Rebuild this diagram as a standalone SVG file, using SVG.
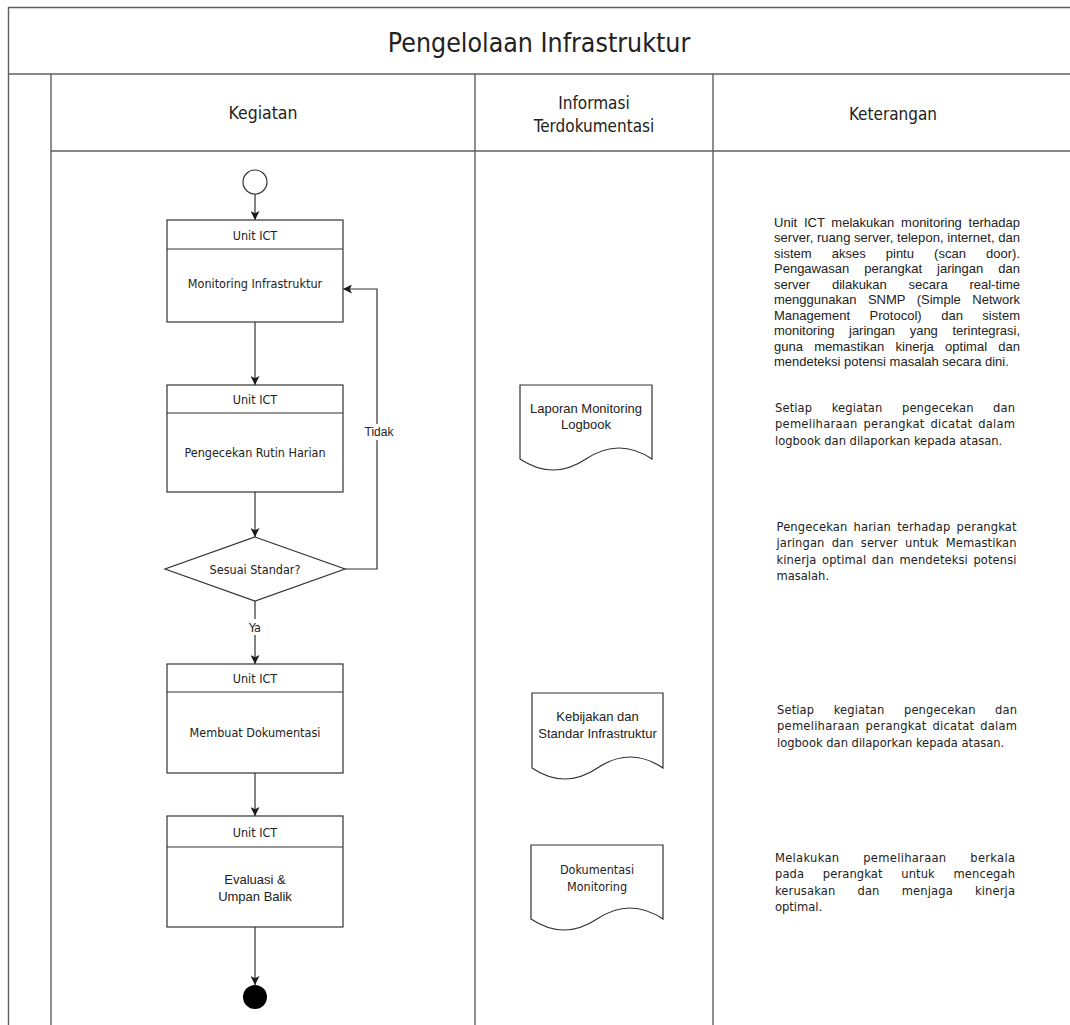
<svg xmlns="http://www.w3.org/2000/svg" width="1070" height="1025" viewBox="0 0 1070 1025">
  <defs>
    <style>
      .tbl{stroke:#5f5f5f;stroke-width:1.4;fill:none}
      .shape{fill:#fff;stroke:#333;stroke-width:1.2}
      .conn{fill:none;stroke:#333;stroke-width:1.2}
      .t{font-family:"DejaVu Sans Condensed","DejaVu Sans",sans-serif;font-stretch:condensed;fill:#222}
      .a{font-family:"Liberation Sans",Arial,sans-serif;fill:#222}
      .c{text-anchor:middle}
      .lbl{font-size:12.5px}
      .doc{font-size:13px}
      .k1{font-family:"Liberation Sans",Arial,sans-serif;font-size:13px;fill:#222}
      .k2{font-family:"DejaVu Sans Condensed","DejaVu Sans",sans-serif;font-stretch:condensed;font-size:12.8px;fill:#222}
    </style>
    <marker id="arrow" viewBox="0 0 10 10" refX="10" refY="5" markerWidth="9" markerHeight="9" markerUnits="userSpaceOnUse" orient="auto">
      <path d="M0,0 L10,5 L0,10 L2.5,5 Z" fill="#1a1a1a"/>
    </marker>
  </defs>

  <rect width="1070" height="1025" fill="#fff"/>

  <!-- pool frame: title bar, lane strip, header row and column separators -->
  <g id="frame" class="tbl">
    <line x1="8" y1="7.5" x2="1070" y2="7.5"/>
    <line x1="8.5" y1="7" x2="8.5" y2="1025"/>
    <line x1="8" y1="74" x2="1070" y2="74"/>
    <line x1="51" y1="74" x2="51" y2="1025"/>
    <line x1="51" y1="151" x2="1070" y2="151"/>
    <line x1="475" y1="74" x2="475" y2="1025"/>
    <line x1="713" y1="74" x2="713" y2="1025"/>
  </g>

  <g id="title">
    <text class="t c" x="539" y="51.5" font-size="26.5">Pengelolaan Infrastruktur</text>
  </g>
  <g id="headers">
    <text class="t c" x="263" y="119" font-size="17.5">Kegiatan</text>
    <text class="t c" x="594" y="109" font-size="17">Informasi</text>
    <text class="t c" x="594" y="132" font-size="17">Terdokumentasi</text>
    <text class="t c" x="893" y="120" font-size="17">Keterangan</text>
  </g>

  <!-- connectors -->
  <g id="connectors">
    <path class="conn" d="M255,194 V220" marker-end="url(#arrow)"/>
    <path class="conn" d="M255,322 V385" marker-end="url(#arrow)"/>
    <path class="conn" d="M255,492 V537" marker-end="url(#arrow)"/>
    <path class="conn" d="M255,601 V664" marker-end="url(#arrow)"/>
    <path class="conn" d="M255,773 V816" marker-end="url(#arrow)"/>
    <path class="conn" d="M255,927 V985" marker-end="url(#arrow)"/>
    <path class="conn" d="M345,569 H377 V289 H343" marker-end="url(#arrow)"/>
    <rect x="246" y="619" width="18" height="16" fill="#fff"/>
    <text class="t c lbl" x="255" y="631.5">Ya</text>
    <rect x="364" y="424" width="30" height="16" fill="#fff"/>
    <text class="a c" x="379" y="436.3" font-size="12">Tidak</text>
  </g>

  <!-- activity lane -->
  <g id="start">
    <circle class="shape" cx="255" cy="182" r="12"/>
  </g>

  <g id="monitoring">
    <rect class="shape" x="167" y="220" width="176" height="102"/>
    <line class="shape" x1="167" y1="249" x2="343" y2="249"/>
    <text class="t c lbl" x="255" y="239.5">Unit ICT</text>
    <text class="t c lbl" x="255" y="287.5">Monitoring Infrastruktur</text>
  </g>

  <g id="pengecekan">
    <rect class="shape" x="167" y="385" width="176" height="107"/>
    <line class="shape" x1="167" y1="413" x2="343" y2="413"/>
    <text class="t c lbl" x="255" y="403.5">Unit ICT</text>
    <text class="t c lbl" x="255" y="456.5">Pengecekan Rutin Harian</text>
  </g>

  <g id="sesuai-standar">
    <polygon class="shape" points="255,537 345,569 255,601 165,569"/>
    <text class="t c lbl" x="255" y="573.5">Sesuai Standar?</text>
  </g>

  <g id="dokumentasi">
    <rect class="shape" x="167" y="664" width="176" height="109"/>
    <line class="shape" x1="167" y1="692" x2="343" y2="692"/>
    <text class="t c lbl" x="255" y="682.5">Unit ICT</text>
    <text class="t c lbl" x="255" y="736.5">Membuat Dokumentasi</text>
  </g>

  <g id="evaluasi">
    <rect class="shape" x="167" y="816" width="176" height="111"/>
    <line class="shape" x1="167" y1="847" x2="343" y2="847"/>
    <text class="t c lbl" x="255" y="836.5">Unit ICT</text>
    <text class="a c doc" x="255" y="883.6">Evaluasi &amp;</text>
    <text class="a c doc" x="255" y="900.6">Umpan Balik</text>
  </g>

  <g id="end">
    <circle cx="255" cy="997" r="12" fill="#000"/>
  </g>

  <!-- documented information lane -->
  <g id="doc-logbook">
    <path class="shape" d="M520,385 H652 V459 Q619,437 586,459 Q553,481 520,459 Z"/>
    <text class="a c doc" x="586" y="412.6">Laporan Monitoring</text>
    <text class="a c doc" x="586" y="428.6">Logbook</text>
  </g>

  <g id="doc-kebijakan">
    <path class="shape" d="M532,693 H663 V768 Q630.25,746 597.5,768 Q564.75,790 532,768 Z"/>
    <text class="a c doc" x="597.5" y="720.6">Kebijakan dan</text>
    <text class="a c doc" x="597.5" y="737.6">Standar Infrastruktur</text>
  </g>

  <g id="doc-dokumentasi">
    <path class="shape" d="M531,845 H663 V919 Q630,897 597,919 Q564,941 531,919 Z"/>
    <text class="t c lbl" x="597" y="873.5">Dokumentasi</text>
    <text class="t c lbl" x="597" y="890.5">Monitoring</text>
  </g>

  <!-- remarks lane: justified paragraphs -->
  <g id="ket-monitoring" class="k1">
    <text x="774" y="226.5" textLength="246" lengthAdjust="spacing" style="word-spacing:3.1px">Unit ICT melakukan monitoring terhadap</text>
    <text x="774" y="242" textLength="246" lengthAdjust="spacing">server, ruang server, telepon, internet, dan</text>
    <text x="774" y="257.5" textLength="246" lengthAdjust="spacing" style="word-spacing:16.5px">sistem akses pintu (scan door).</text>
    <text x="774" y="273" textLength="246" lengthAdjust="spacing" style="word-spacing:11.4px">Pengawasan perangkat jaringan dan</text>
    <text x="774" y="288.5" textLength="246" lengthAdjust="spacing" style="word-spacing:18.2px">server dilakukan secara real-time</text>
    <text x="774" y="304" textLength="246" lengthAdjust="spacing" style="word-spacing:7.8px">menggunakan SNMP (Simple Network</text>
    <text x="774" y="319.5" textLength="246" lengthAdjust="spacing" style="word-spacing:15.8px">Management Protocol) dan sistem</text>
    <text x="774" y="335" textLength="246" lengthAdjust="spacing" style="word-spacing:11.1px">monitoring jaringan yang terintegrasi,</text>
    <text x="774" y="350.5" textLength="246" lengthAdjust="spacing" style="word-spacing:7.7px">guna memastikan kinerja optimal dan</text>
    <text x="774" y="366">mendeteksi potensi masalah secara dini.</text>
  </g>

  <g id="ket-logbook" class="k2">
    <text x="775" y="411.5" textLength="240" lengthAdjust="spacing" style="word-spacing:15.7px">Setiap kegiatan pengecekan dan</text>
    <text x="775" y="428" textLength="240" lengthAdjust="spacing" style="word-spacing:2px">pemeliharaan perangkat dicatat dalam</text>
    <text x="775" y="444.5">logbook dan dilaporkan kepada atasan.</text>
  </g>

  <g id="ket-harian" class="k2">
    <text x="776.5" y="530.5" textLength="240" lengthAdjust="spacing" style="word-spacing:2.4px">Pengecekan harian terhadap perangkat</text>
    <text x="776.5" y="547" textLength="240" lengthAdjust="spacing" style="word-spacing:3.4px">jaringan dan server untuk Memastikan</text>
    <text x="776.5" y="563.5" textLength="240" lengthAdjust="spacing" style="word-spacing:1.8px">kinerja optimal dan mendeteksi potensi</text>
    <text x="776.5" y="580">masalah.</text>
  </g>

  <g id="ket-dokumentasi" class="k2">
    <text x="777" y="713.5" textLength="240" lengthAdjust="spacing" style="word-spacing:15.7px">Setiap kegiatan pengecekan dan</text>
    <text x="777" y="730" textLength="240" lengthAdjust="spacing" style="word-spacing:2px">pemeliharaan perangkat dicatat dalam</text>
    <text x="777" y="746.5">logbook dan dilaporkan kepada atasan.</text>
  </g>

  <g id="ket-pemeliharaan" class="k2">
    <text x="775" y="861.5" textLength="240" lengthAdjust="spacing" style="word-spacing:19.9px">Melakukan pemeliharaan berkala</text>
    <text x="775" y="878" textLength="240" lengthAdjust="spacing" style="word-spacing:14.8px">pada perangkat untuk mencegah</text>
    <text x="775" y="894.5" textLength="240" lengthAdjust="spacing" style="word-spacing:18.4px">kerusakan dan menjaga kinerja</text>
    <text x="775" y="911">optimal.</text>
  </g>
</svg>
